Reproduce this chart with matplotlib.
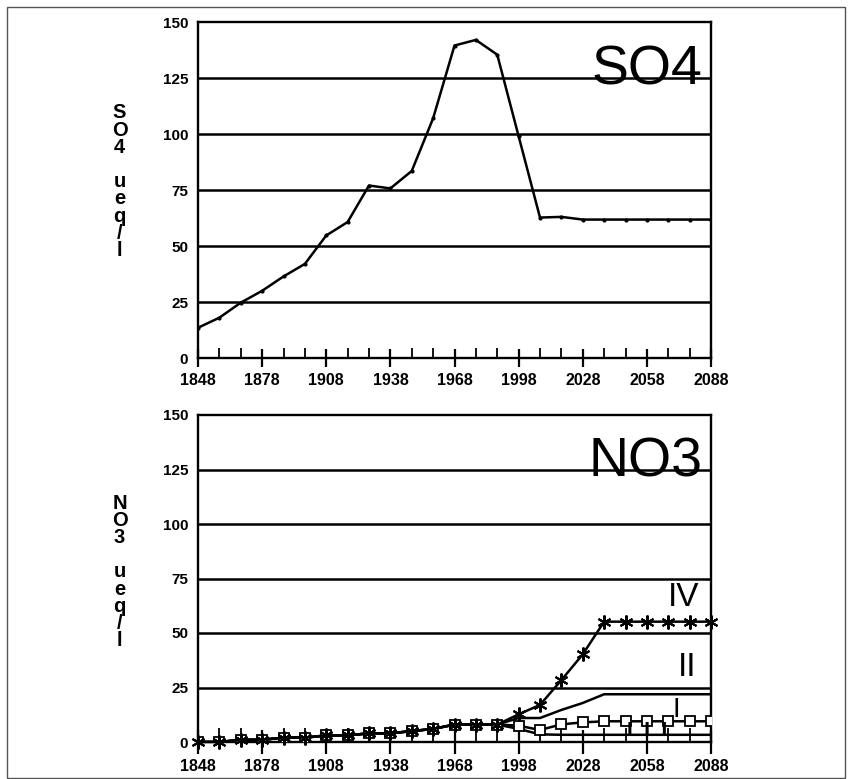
import matplotlib
matplotlib.use("Agg")
import matplotlib.pyplot as plt
from matplotlib.ticker import FixedLocator
from matplotlib.patches import Rectangle

plt.rcParams['font.family'] = ['Liberation Sans', 'DejaVu Sans']

years = list(range(1848, 2089, 10))
xtick_labels = [1848, 1878, 1908, 1938, 1968, 1998, 2028, 2058, 2088]
yticks = [0, 25, 50, 75, 100, 125, 150]

so4 = [13.5, 18, 24.7, 30, 36.4, 42, 54.7, 60.7, 77, 75.7, 83.5, 107, 139.5, 142,
       135.4, 99, 62.7, 63, 61.8, 61.8, 61.8, 61.8, 61.8, 61.8, 61.8]

common = [0, 0, 1, 1, 2, 2, 3, 3, 4, 4, 5, 6, 8, 8, 8]
no3_I = common + [7.5, 5.5, 8.1, 9.0, 9.5, 9.5, 9.5, 9.5, 9.5, 9.5]
no3_II = common + [11, 11, 14.7, 17.9, 21.9, 21.9, 21.9, 21.9, 21.9, 21.9]
no3_III = common + [6, 3.5, 3.3, 3.3, 3.3, 3.3, 3.3, 3.3, 3.3, 3.3]
no3_IV = common + [12.7, 17, 28.4, 40.2, 55.2, 55.2, 55.2, 55.2, 55.2, 55.2]

W, H = 851, 779
fig = plt.figure(figsize=(W / 100, H / 100), dpi=100)

def ax_at(left, right, top, bottom):
    return fig.add_axes([left / W, 1 - bottom / H, (right - left) / W, (bottom - top) / H])

ax1 = ax_at(198, 711, 22, 358)
ax2 = ax_at(198, 711, 415, 742)

def style(ax, minor_len, major_len):
    ax.set_xlim(1848, 2088)
    ax.set_ylim(0, 150)
    ax.set_yticks(yticks)
    ax.set_yticklabels([str(v) for v in yticks], fontweight='bold', fontsize=11)
    ax.set_xticks(xtick_labels)
    ax.set_xticklabels([str(v) for v in xtick_labels], fontweight='bold', fontsize=11.5)
    ax.xaxis.set_minor_locator(FixedLocator(years))
    ax.tick_params(axis='y', length=0, pad=7)
    ax.tick_params(axis='x', which='major', direction='inout', length=major_len, width=1.6, pad=4)
    ax.tick_params(axis='x', which='minor', direction='in', length=minor_len, width=1.3)
    for s in ax.spines.values():
        s.set_linewidth(1.7)
    for v in yticks[1:-1]:
        ax.axhline(v, color='black', lw=1.8, zorder=1)
    ax.set_facecolor('white')

style(ax1, 7, 13)
style(ax2, 10, 17)

ylab_kw = dict(fontsize=14.5, fontweight='bold', ha='center', va='center', linespacing=0.88)

ax1.plot(years, so4, color='black', lw=1.8, marker='o', markersize=2, zorder=3)
ax1.text(2084, 122, 'SO4', fontsize=40, ha='right', va='baseline')
ax1.text(-0.153, 0.525, 'S\nO\n4\n\nu\ne\nq\n/\nl', transform=ax1.transAxes, **ylab_kw)

ax2.plot(years, no3_III, color='black', lw=1.8, zorder=3)
ax2.plot(years, no3_II, color='black', lw=1.8, zorder=3)
ax2.plot(years, no3_I, color='black', lw=1.8, marker='s', markersize=7,
         markerfacecolor='white', markeredgewidth=1.3, zorder=4)
ax2.plot(years, no3_IV, color='black', lw=1.8, marker=(6, 2, 0), markersize=10,
         markeredgewidth=1.5, zorder=5, clip_on=False)
ax2.text(2084, 122, 'NO3', fontsize=40, ha='right', va='baseline')
ax2.text(2075, 66.5, 'IV', fontsize=24, ha='center', va='center')
ax2.text(2077, 34, 'II', fontsize=24, ha='center', va='center')
ax2.text(2072, 14.7, 'I', fontsize=20, ha='center', va='center')
ax2.text(2058, 5.5, 'I  I  I', fontsize=15, fontweight='bold', ha='center', va='center', zorder=6)
ax2.text(-0.153, 0.52, 'N\nO\n3\n\nu\ne\nq\n/\nl', transform=ax2.transAxes, **ylab_kw)

fig.patches.append(Rectangle((7 / W, 1 / H), (845 - 7) / W, (772 - 1) / H,
                             transform=fig.transFigure, fill=False, lw=1.0,
                             edgecolor='#555555'))

fig.savefig('out.png', dpi=100)
